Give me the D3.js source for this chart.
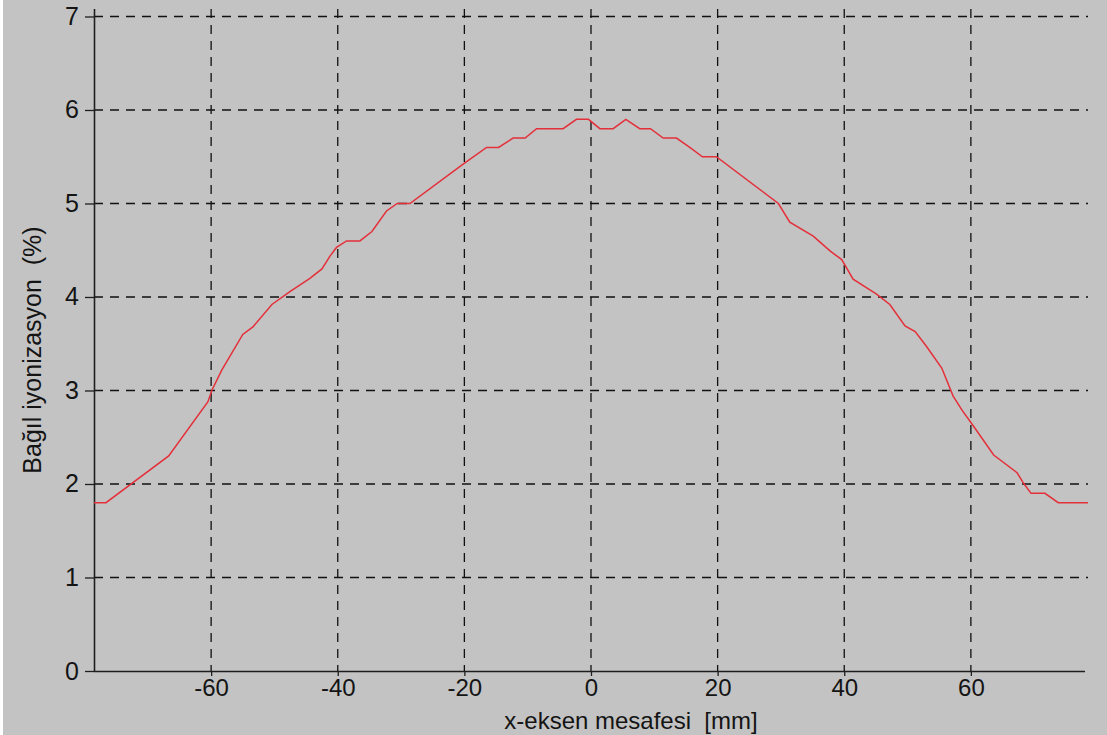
<!DOCTYPE html>
<html>
<head>
	<meta charset='utf-8'>
	<script src="https://cdnjs.cloudflare.com/ajax/libs/d3/7.8.5/d3.min.js" charset="utf-8"></script>
	<style>
	body {
		margin:0;
		background:#fff;
		font-family:"Liberation Sans", Arial, sans-serif;
	}
	</style>
</head>
<body>
	<script>

	// measured profile, x in mm, relative ionization in %
	var xValues = [-78.5, -76.6, -66.7, -60.5, -59.9, -58.3, -55, -53.4, -50.4, -47.5, -44.4, -42.5, -41.2, -40.2, -38.6, -36.5,
		-34.6, -32.3, -30.6, -28.6, -20.2, -16.5, -14.6, -12.3, -10.4, -8.6, -4.4, -2.3, -0.4, 1.4, 3.5, 5.5, 7.7, 9.4,
		11.4, 13.5, 15.6, 17.6, 19.8, 29.6, 31.4, 35.1, 37.8, 39.6, 41.4, 45.1, 47.2, 49.6, 51.2, 53, 55.4, 57.2, 58.6,
		60.4, 63.6, 67.3, 68.3, 69.5, 71.7, 73.8, 78.5];
	var yValues = [1.8, 1.8, 2.3, 2.88, 3.0, 3.22, 3.6, 3.68, 3.92, 4.06, 4.2, 4.3, 4.44, 4.53, 4.6, 4.6,
		4.7, 4.92, 5.0, 5.0, 5.42, 5.6, 5.6, 5.7, 5.7, 5.8, 5.8, 5.9, 5.9, 5.8, 5.8, 5.9, 5.8, 5.8,
		5.7, 5.7, 5.6, 5.5, 5.5, 5.0, 4.8, 4.65, 4.49, 4.4, 4.19, 4.03, 3.92, 3.69, 3.63, 3.47, 3.24, 2.94, 2.79,
		2.62, 2.31, 2.12, 2.01, 1.9, 1.9, 1.8, 1.8];
	var xTicks = [-60, -40, -20, 0, 20, 40, 60];
	var yTicks = [0, 1, 2, 3, 4, 5, 6, 7];
	var xTitle = 'x-eksen mesafesi  [mm]';
	var yTitle = 'Bağıl iyonizasyon  (%)';

	var canvasWidth = 1107,
		canvasHeight = 735;
	var bgColor = '#c3c3c3',
		lineColor = '#e4303a',
		axisColor = '#1e1e1e';

	var plotLeft = 94, plotRight = 1088, plotTop = 9, plotBottom = 671;

	var x = d3.scaleLinear().domain([-78.5, 78.5]).range([plotLeft, plotRight]);
	var y = d3.scaleLinear().domain([0, 7.08]).range([plotBottom, plotTop]);

	var svg = d3.select('body').append('svg').attr('width', canvasWidth).attr('height', canvasHeight)
		.style('display', 'block');
	svg.append('rect').attr('x', 3).attr('y', 0).attr('width', canvasWidth - 3).attr('height', canvasHeight).attr('fill', bgColor);

	// grid
	svg.append('g').selectAll('line').data(xTicks).enter().append('line')
		.attr('x1', function (d) { return x(d); }).attr('x2', function (d) { return x(d); })
		.attr('y1', plotTop).attr('y2', plotBottom)
		.attr('stroke', '#111').attr('stroke-width', 1.3).attr('stroke-dasharray', '9,7');
	svg.append('g').selectAll('line').data(yTicks.filter(function (d) { return d > 0; })).enter().append('line')
		.attr('x1', plotLeft).attr('x2', plotRight)
		.attr('y1', function (d) { return y(d); }).attr('y2', function (d) { return y(d); })
		.attr('stroke', '#111').attr('stroke-width', 1.3).attr('stroke-dasharray', '9,7');

	// axes
	var plain = function (d) { return String(d); };
	var xAxis = svg.append('g').attr('transform', 'translate(0,' + plotBottom + ')')
		.call(d3.axisBottom(x).tickValues(xTicks).tickFormat(plain).tickSize(5).tickSizeOuter(0).tickPadding(3));
	var yAxis = svg.append('g').attr('transform', 'translate(' + plotLeft + ',0)')
		.call(d3.axisLeft(y).tickValues(yTicks).tickFormat(plain).tickSize(9).tickSizeOuter(0).tickPadding(6));

	[xAxis, yAxis].forEach(function (a) {
		a.select('.domain').attr('stroke', axisColor).attr('stroke-width', 1.6);
		a.selectAll('.tick line').attr('stroke', axisColor).attr('stroke-width', 1.3);
		a.selectAll('.tick text').attr('fill', '#141414').style('font-size', '25px')
			.style('font-family', '"Liberation Sans", Arial, sans-serif');
	});
	xAxis.selectAll('.tick text').style('font-size', '24px');
	yAxis.select('.domain').attr('d', 'M0.5,' + plotTop + 'V' + plotBottom);
	xAxis.select('.domain').attr('d', 'M' + plotLeft + ',0.5H' + (plotRight - 3));

	// profile
	var points = xValues.map(function (d, i) { return [d, yValues[i]]; });
	svg.append('path').datum(points)
		.attr('fill', 'none').attr('stroke', lineColor).attr('stroke-width', 1.5)
		.attr('d', d3.line().x(function (d) { return x(d[0]); }).y(function (d) { return y(d[1]); }));

	// titles
	svg.append('text').attr('x', 631).attr('y', 729).attr('text-anchor', 'middle').style('white-space', 'pre')
		.attr('fill', '#141414').style('font-size', '24px').text(xTitle);
	svg.append('text').attr('transform', 'translate(41,' + 350 + ') rotate(-90)').attr('text-anchor', 'middle')
		.style('white-space', 'pre').attr('fill', '#141414').style('font-size', '25px').text(yTitle);

	</script>
</body>
</html>
